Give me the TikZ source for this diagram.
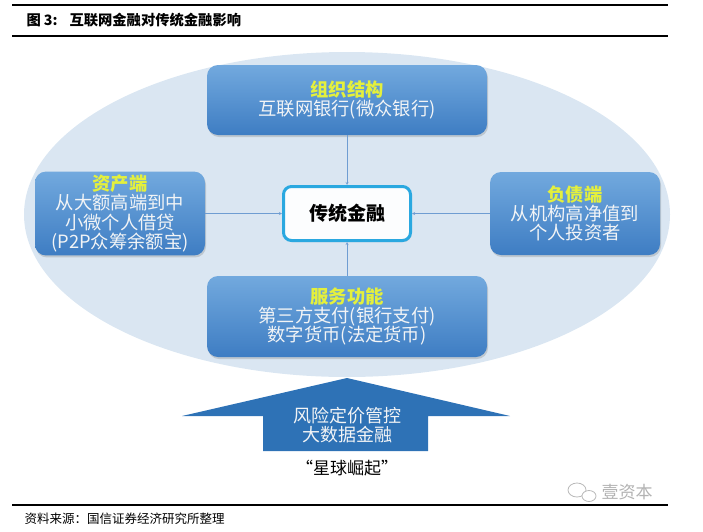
\documentclass[tikz,border=0pt]{standalone}
\usepackage{fontspec}
\setmainfont{Noto Sans CJK SC}
\usetikzlibrary{shapes.geometric, arrows}
\usetikzlibrary{calc, shapes, backgrounds, shadows}
\definecolor{ovalfill}{HTML}{DAE6F2}
\definecolor{boxtop}{HTML}{72A9DE}
\definecolor{boxbottom}{HTML}{3E7DC3}
\definecolor{titleyellow}{HTML}{E4F03C}
\definecolor{boxwhite}{HTML}{F2F4F6}
\definecolor{coreline}{HTML}{2AA8E0}
\definecolor{bigblue}{HTML}{2E72B6}
\definecolor{linkblue}{HTML}{6F9DD2}
\tikzstyle{block} = [rectangle, rounded corners=11pt, align=center, text=boxwhite, top color=boxtop, bottom color=boxbottom, drop shadow={shadow xshift=1pt, shadow yshift=-2pt, opacity=0.3}, font=\fontsize{18.3}{19.3}\selectfont]
\tikzstyle{arrow} = [thin,->,>=stealth, draw=linkblue]
\tikzstyle{rule} = [line width=1.6pt]

\begin{document}
\begin{tikzpicture}[x=1pt, y=-1pt]
	\useasboundingbox (0,0) rectangle (703,531);
	% Frame
	\draw[rule, line width=2pt] (12,5) -- (668,5);
	\draw[rule] (12,36) -- (668,36);
	\draw[rule] (12,505) -- (668,505);
	\node[anchor=west, font=\bfseries\fontsize{14.3}{16}\selectfont] (title) at (23,20) {图\hspace{3pt}3:\hspace{12pt}互联网金融对传统金融影响};
	\node[anchor=west, font=\fontsize{12.5}{14}\selectfont] (source) at (21,519) {资料来源：国信证券经济研究所整理};

	% Oval
	\node[ellipse, fill=ovalfill, minimum width=646pt, minimum height=325pt] (oval) at (347,214.5) {};

	% Boxes
	\node[block, minimum width=280pt, minimum height=70pt] (org) at (347,100) {{\color{titleyellow}\bfseries 组织结构}\\互联网银行(微众银行)};
	\node[block, minimum width=170pt, minimum height=83pt] (asset) at (120,213.5) {{\color{titleyellow}\bfseries 资产端}\\从大额高端到中\\小微个人借贷\\(P2P众筹余额宝)};
	\node[block, minimum width=170pt, minimum height=83pt] (debt) at (575,213.5) {{\color{titleyellow}\bfseries 负债端}\\从机构高净值到\\个人投资者};
	\node[block, minimum width=280pt, minimum height=81pt] (service) at (347,316.5) {{\color{titleyellow}\bfseries 服务功能}\\第三方支付(银行支付)\\数字货币(法定货币)};
	\node[rectangle, rounded corners=8pt, draw=coreline, line width=3pt, fill=white!92!ovalfill, minimum width=127pt, minimum height=54pt, drop shadow={shadow xshift=1pt, shadow yshift=-1.5pt, opacity=0.25}, font=\bfseries\fontsize{19}{21}\selectfont] (trad) at (347,213.5) {传统金融};

	\draw[arrow] (org) -- (trad);
	\draw[arrow] (asset) -- (trad);
	\draw[arrow] (debt) -- (trad);
	\draw[arrow] (service) -- (trad);

	% Big arrow
	\fill[bigblue] (347,378) -- (510,416) -- (428,416) -- (428,451) -- (263,451) -- (263,416) -- (182,416) -- cycle;
	\node[align=center, text=boxwhite, font=\fontsize{18}{19}\selectfont] (risk) at (347,425) {风险定价管控\\大数据金融};
	\node[font=\fontsize{17}{19}\selectfont] (star) at (347,468) {“星球崛起”};

	% Labels
	\draw[gray!55, thick] (577,490) ellipse (9pt and 7pt);
	\draw[gray!55, thick, fill=white] (589,496) ellipse (7pt and 5.5pt);
	\node[anchor=west, text=gray!60, font=\fontsize{17}{19}\selectfont] (mark) at (598,492) {壹资本};
\end{tikzpicture}
\end{document}
